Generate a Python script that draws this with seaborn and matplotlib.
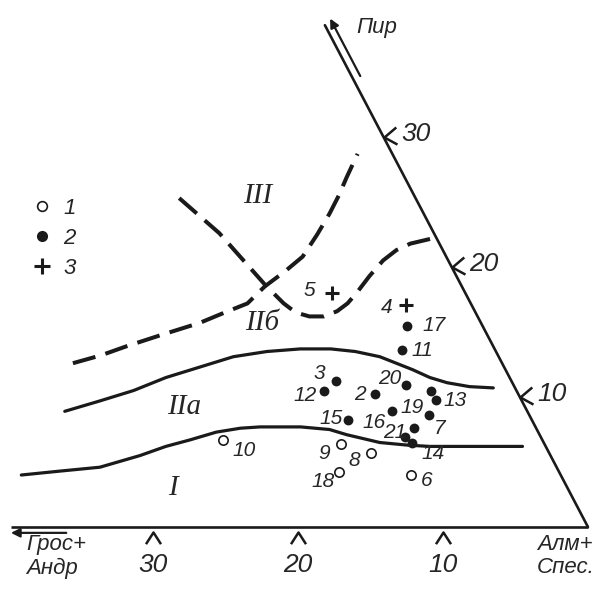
import numpy as np
import pandas as pd
import matplotlib.pyplot as plt
from matplotlib.lines import Line2D
from matplotlib.path import Path
import seaborn as sns

sns.set_theme(style="white")
plt.rcParams['font.family'] = ['Liberation Sans Narrow', 'Liberation Sans', 'DejaVu Sans']
plt.rcParams['font.style'] = 'italic'

# Составы гранатов, мол.%: Грос+Андр и Пир (остальное - Алм+Спес)
# 1 - светлые кружки
open_no = ['6', '8', '9', '10', '18']
open_gros = [10.3, 12.3, 14.0, 22.0, 15.2]
open_pir = [4.0, 5.7, 6.4, 6.7, 4.2]

# 2 - залитые кружки
dot_no = ['2', '3', '7', '11', '12', '13', '', '14', '15', '16', '17', '19', '20', '21']
dot_gros = [9.9, 12.1, 8.4, 6.4, 13.3, 5.9, 5.9, 9.1, 12.7, 9.3, 5.2, 6.9, 7.4, 9.4]
dot_pir = [10.2, 11.2, 7.6, 13.6, 10.5, 9.8, 10.5, 6.5, 8.2, 8.9, 15.5, 8.6, 10.9, 6.9]

# 3 - крестики
plus_no = ['4', '5']
plus_gros = [4.5, 9.2]
plus_pir = [17.1, 18.0]

# границы полей (сплошные)
bound_I_gros = [37.2, 34.4, 31.5, 28.3, 26.2, 24.3, 22.2, 20.4, 19.0, 16.2, 14.3, 13.3, 11.3, 9.5, 8.0, 5.9, 1.6]
bound_I_pir = [4.0, 4.3, 4.6, 5.5, 6.2, 6.7, 7.3, 7.6, 7.7, 7.7, 7.5, 7.1, 6.5, 6.3, 6.2, 6.2, 6.2]
bound_II_gros = [31.9, 29.1, 26.4, 23.7, 21.0, 18.3, 15.8, 13.4, 11.3, 9.7, 8.2, 6.4, 5.5, 4.5, 3.1, 1.5]
bound_II_pir = [8.9, 9.7, 10.5, 11.5, 12.3, 13.1, 13.5, 13.7, 13.7, 13.5, 13.1, 12.1, 11.5, 11.1, 10.8, 10.7]

# границы полей (пунктир)
dash_A_gros = [29.6, 27.4, 25.3, 22.4, 19.4, 17.3, 15.4, 13.6, 11.6, 9.9, 8.1, 6.5, 5.2, 4.0, 2.4]
dash_A_pir = [12.6, 13.2, 13.9, 14.8, 15.7, 16.5, 17.2, 18.5, 19.7, 20.8, 22.5, 24.1, 25.5, 26.9, 28.7]
dash_B_gros = [16.3, 14.8, 13.5, 12.9, 12.4, 11.6, 10.6, 9.5, 8.5, 7.5, 6.0, 4.5, 3.2, 2.0, 0.3]
dash_B_pir = [25.3, 22.6, 18.6, 17.2, 16.5, 16.2, 16.2, 16.6, 17.2, 18.0, 19.3, 20.5, 21.3, 21.8, 22.2]

ticks = [10, 20, 30]

# подписи полей: (текст, Грос, Пир)
fields = [('III', 10.8, 25.5), ('IIб', 15.1, 15.7), ('IIа', 23.5, 9.2), ('I', 27.2, 3.0)]

# смещения номеров от точек, пиксели
label_offset = {
    '2': (-15, 0), '3': (-17, 8), '7': (25, 0), '11': (20, 0), '12': (-18, -5),
    '13': (19, -1), '14': (21, -11), '15': (-17, 2), '16': (-18, -11), '17': (27, 0),
    '19': (-17, 8), '20': (-17, 7), '21': (-10, 5),
    '6': (15, -5), '8': (-17, -8), '9': (-17, -10), '10': (21, -11), '18': (-16, -9),
    '4': (-20, -3), '5': (-23, 3),
}

SKEW = 0.47


def to_xy(g, p):
    g = np.asarray(g, dtype=float)
    p = np.asarray(p, dtype=float)
    return g + SKEW * p, p


def frame(no, g, p):
    x, y = to_xy(g, p)
    return pd.DataFrame({'no': no, 'x': x, 'y': y})


fig = plt.figure(figsize=(6, 5.95), dpi=100)
ax = fig.add_axes([0, 0, 1, 1])
ax.set_xlim(40.55, -0.83)
ax.set_ylim(-5.23, 40.54)
ax.axis('off')

# оси треугольника
x, y = to_xy([0, 39.8], [0, 0])
ax.plot(x, y, color='k', lw=1.9, solid_capstyle='butt')
x, y = to_xy([0, 0], [0, 38.6])
ax.plot(x, y, color='k', lw=1.9)

ax.annotate('', xy=to_xy(40.2, -0.45), xytext=to_xy(36.0, -0.45),
            arrowprops=dict(arrowstyle='-|>', color='k', lw=1.6, mutation_scale=13))
ax.annotate('', xy=to_xy(-0.6, 39.3), xytext=to_xy(-0.6, 34.5),
            arrowprops=dict(arrowstyle='-|>', color='k', lw=1.6, mutation_scale=13))

caret = Path([(-0.45, -1.0), (0, -0.3), (0.45, -1.0)], [Path.MOVETO, Path.LINETO, Path.LINETO])
angle = Path([(1.0, 0.85), (0, 0), (1.1, -0.6)], [Path.MOVETO, Path.LINETO, Path.LINETO])
x, y = to_xy(ticks, [0] * 3)
ax.plot(x, y, ls='none', marker=caret, ms=24, mew=1.8, mfc='none', mec='k')
for g, xx, yy in zip(ticks, x, y):
    ax.annotate(str(g), xy=(xx, yy), xytext=(0, -38), textcoords='offset pixels',
                ha='center', va='center', fontsize=19)
x, y = to_xy([0] * 3, ticks)
ax.plot(x, y, ls='none', marker=angle, ms=18.7, mew=1.8, mfc='none', mec='k')
for p, xx, yy in zip(ticks, x, y):
    ax.annotate(str(p), xy=(xx, yy), xytext=(32, 3), textcoords='offset pixels',
                ha='center', va='center', fontsize=19)

# границы полей
for gg, pp in [(bound_I_gros, bound_I_pir), (bound_II_gros, bound_II_pir)]:
    d = frame([''] * len(gg), gg, pp)
    sns.lineplot(data=d, x='x', y='y', sort=False, estimator=None, color='k', lw=2.3,
                 solid_joinstyle='round', ax=ax)
for gg, pp in [(dash_A_gros, dash_A_pir), (dash_B_gros, dash_B_pir)]:
    d = frame([''] * len(gg), gg, pp)
    sns.lineplot(data=d, x='x', y='y', sort=False, estimator=None, color='k', lw=2.9,
                 linestyle=(0, (5.8, 2.6)), ax=ax)

# точки
d_open = frame(open_no, open_gros, open_pir)
d_dot = frame(dot_no, dot_gros, dot_pir)
d_plus = frame(plus_no, plus_gros, plus_pir)
sns.scatterplot(data=d_open, x='x', y='y', marker='o', s=45, facecolor='white',
                edgecolor='k', linewidth=1.2, ax=ax, zorder=3)
sns.scatterplot(data=d_dot, x='x', y='y', marker='o', s=50, color='k', linewidth=0, ax=ax, zorder=3)
sns.scatterplot(data=d_plus, x='x', y='y', marker='+', s=110, color='k', linewidth=2.2, ax=ax, zorder=3)

for d in (d_open, d_dot, d_plus):
    for _, r in d.iterrows():
        if r['no'] == '':
            continue
        ax.annotate(r['no'], xy=(r['x'], r['y']), xytext=label_offset[r['no']],
                    textcoords='offset pixels', ha='center', va='center', fontsize=15)

for txt, g, p in fields:
    ax.text(*to_xy(g, p), txt, ha='center', va='center', fontsize=21,
            family=['Liberation Serif', 'DejaVu Serif'])

# подписи осей
ax.text(377 / 600, 1 - 28 / 595, 'Пир', transform=ax.transAxes, ha='center', va='center', fontsize=16)
ax.text(26 / 600, 1 - 534 / 595, 'Грос+\nАндр', transform=ax.transAxes, ha='left', va='top',
        fontsize=16, linespacing=1.15)
ax.text(537 / 600, 1 - 534 / 595, 'Алм+\nСпес.', transform=ax.transAxes, ha='left', va='top',
        fontsize=16, linespacing=1.15)

# условные обозначения
handles = [
    Line2D([], [], ls='none', marker='o', ms=7, mfc='white', mec='k', mew=1.2),
    Line2D([], [], ls='none', marker='o', ms=7, mfc='k', mec='k'),
    Line2D([], [], ls='none', marker='+', ms=11, mec='k', mew=2.2),
]
ax.legend(handles, ['1', '2', '3'], loc='upper left', bbox_to_anchor=(31 / 600, 1 - 198 / 595),
          frameon=False, handlelength=1.0, handletextpad=0.45, labelspacing=0.4,
          borderpad=0, borderaxespad=0, fontsize=16)

fig.savefig('out.png', dpi=100)
